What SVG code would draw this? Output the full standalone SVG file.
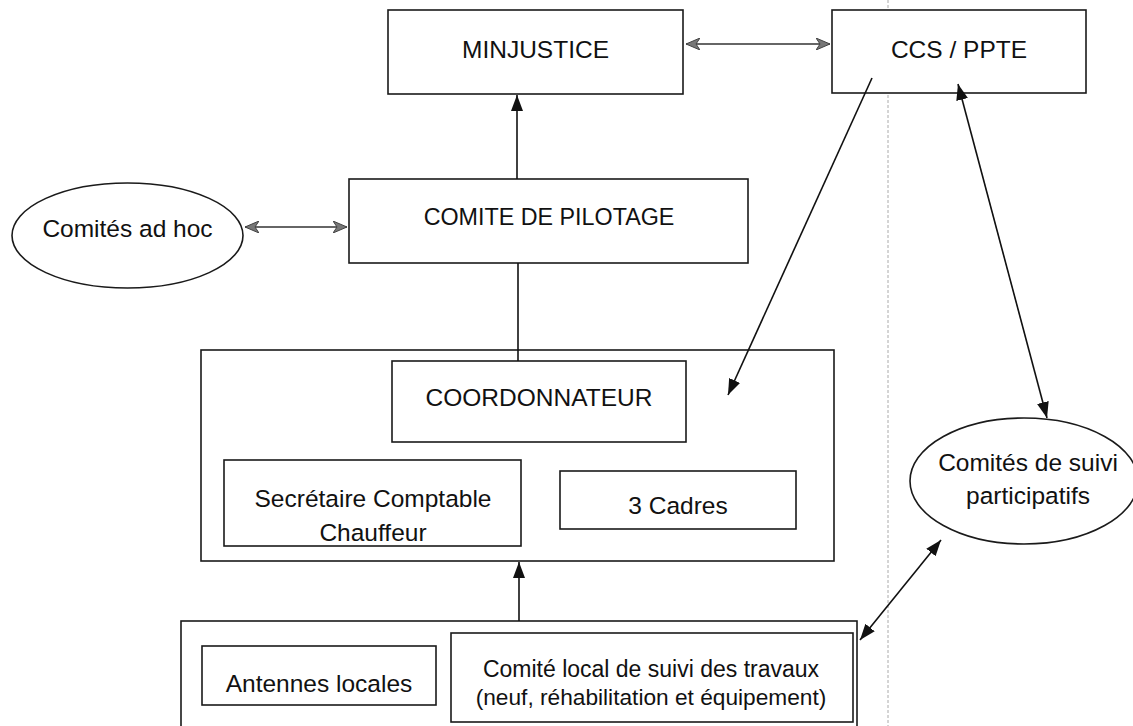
<svg xmlns="http://www.w3.org/2000/svg" width="1133" height="726" viewBox="0 0 1133 726">
<defs>
<marker id="ab" viewBox="0 0 16 12" refX="16" refY="6" markerWidth="16" markerHeight="12" markerUnits="userSpaceOnUse" orient="auto-start-reverse"><path d="M0,0 L16,6 L0,12 z" fill="#111"/></marker>
<marker id="ag" viewBox="0 0 14 12" refX="14" refY="6" markerWidth="14" markerHeight="12" markerUnits="userSpaceOnUse" orient="auto-start-reverse"><path d="M0,0 L14,6 L0,12 L4,6 z" fill="#777" stroke="#444" stroke-width="1"/></marker>
</defs>
<style>
.box{fill:#fff;stroke:#1a1a1a;stroke-width:1.6}
.cont{fill:none;stroke:#1a1a1a;stroke-width:1.6}
.t{font-family:"Liberation Sans",Arial,sans-serif;font-size:24.5px;fill:#111;text-anchor:middle}
.c{fill:none;stroke:#111;stroke-width:1.6}
.g{fill:none;stroke:#333;stroke-width:1.3}
</style>
<rect width="1133" height="726" fill="#fff"/>
<line x1="888" y1="0" x2="888" y2="726" stroke="#aaa" stroke-width="1" stroke-dasharray="3,2"/>
<g id="minjustice"><rect class="box" x="388" y="10" width="295" height="84"/><text class="t" x="535.5" y="58">MINJUSTICE</text></g>
<g id="ccs"><rect class="box" x="832" y="10" width="254" height="83"/><text class="t" x="959" y="58">CCS / PPTE</text></g>
<g id="adhoc"><ellipse class="box" cx="127.5" cy="235.5" rx="115.5" ry="52.5"/><text class="t" x="127.5" y="237">Comités ad hoc</text></g>
<g id="pilotage"><rect class="box" x="349" y="179" width="399" height="84"/><text class="t" x="549" y="225" style="font-size:23.3px">COMITE DE PILOTAGE</text></g>
<g id="unite"><rect class="cont" x="201" y="350" width="633" height="211"/></g>
<g id="coordonnateur"><rect class="box" x="392" y="361" width="294" height="81"/><text class="t" x="539" y="406">COORDONNATEUR</text></g>
<g id="secretaire"><rect class="box" x="224" y="460" width="297" height="86"/><text class="t" x="373" y="507">Secrétaire Comptable</text><text class="t" x="373" y="541">Chauffeur</text></g>
<g id="cadres"><rect class="box" x="560" y="471" width="236" height="58"/><text class="t" x="678" y="514">3 Cadres</text></g>
<g id="local"><rect class="cont" x="181" y="621" width="676" height="110"/></g>
<g id="antennes"><rect class="box" x="202" y="646" width="234" height="59"/><text class="t" x="319" y="692">Antennes locales</text></g>
<g id="comitelocal"><rect class="box" x="451" y="633" width="402" height="89"/><text class="t" x="651" y="677" style="font-size:23px">Comité local de suivi des travaux</text><text class="t" x="651" y="705" style="font-size:22.7px">(neuf, réhabilitation et équipement)</text></g>
<g id="suivi"><ellipse class="box" cx="1024" cy="481" rx="114" ry="63"/><text class="t" x="1028" y="471">Comités de suivi</text><text class="t" x="1028" y="504">participatifs</text></g>
<g id="connectors">
<line class="g" x1="686" y1="44" x2="830" y2="44" marker-start="url(#ag)" marker-end="url(#ag)"/>
<line class="g" x1="245" y1="227" x2="347" y2="227" marker-start="url(#ag)" marker-end="url(#ag)"/>
<line class="c" x1="517" y1="179" x2="517" y2="95" marker-end="url(#ab)"/>
<line class="c" x1="518" y1="263" x2="518" y2="361"/>
<line class="c" x1="519" y1="621" x2="519" y2="562" marker-end="url(#ab)"/>
<line class="c" x1="872" y1="78" x2="728" y2="395" marker-end="url(#ab)"/>
<line class="c" x1="958" y1="84" x2="1047" y2="418" marker-start="url(#ab)" marker-end="url(#ab)"/>
<line class="c" x1="860" y1="640" x2="941" y2="540" marker-start="url(#ab)" marker-end="url(#ab)"/>
</g>
</svg>
